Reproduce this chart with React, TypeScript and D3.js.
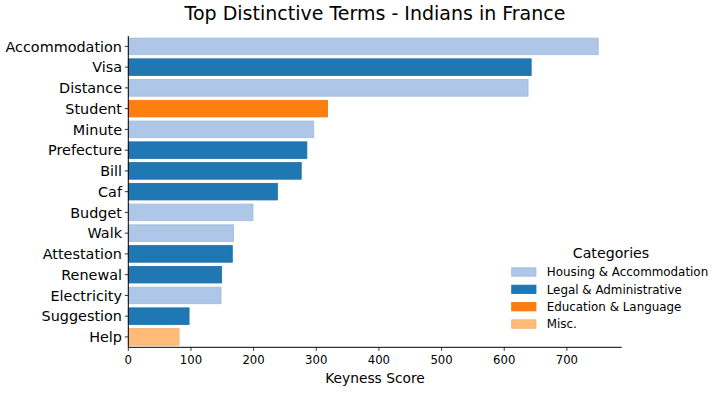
import React from "react";
import * as d3 from "d3";

const terms = ["Accommodation","Visa","Distance","Student","Minute","Prefecture","Bill","Caf","Budget","Walk","Attestation","Renewal","Electricity","Suggestion","Help"];
const scores = [750,643,638,318,296,285,276,238,199,168,166,149,148,97,81];
const termCategories = ["Housing & Accommodation","Legal & Administrative","Housing & Accommodation","Education & Language","Housing & Accommodation","Legal & Administrative","Legal & Administrative","Legal & Administrative","Housing & Accommodation","Housing & Accommodation","Legal & Administrative","Legal & Administrative","Housing & Accommodation","Legal & Administrative","Misc."];
const categories = ["Housing & Accommodation","Legal & Administrative","Education & Language","Misc."];
const categoryColors = ["#aec7e8","#1f77b4","#ff7f0e","#ffbb78"];
const xTicks = [0,100,200,300,400,500,600,700];

const W = 720, H = 393;
const left = 128.3, right = 621.7, top = 36, bottom = 347.3;
const FONT = "DejaVu Sans, sans-serif";

const edge = (c: string) => d3.color(c)!.darker(0.2).formatHex();

export default function App() {
  const xMax = d3.max(scores)! * 1.05;
  const x = d3.scaleLinear().domain([0, xMax]).range([left, right]);
  const y = d3.scaleBand<string>().domain(terms).range([top, bottom]).paddingInner(0.2).paddingOuter(0.1);
  const color = d3.scaleOrdinal<string, string>().domain(categories).range(categoryColors);

  return (
    <svg width={W} height={H} style={{ position: "absolute", left: 0, top: 0 }} fontFamily={FONT}>
      <rect width={W} height={H} fill="#fff" />
      <text x={(left + right) / 2} y={19.5} textAnchor="middle" fontSize={19} fill="#000">
        Top Distinctive Terms - Indians in France
      </text>
      {terms.map((t, i) => {
        const c = color(termCategories[i]);
        return (
          <rect key={t} x={x(0)} y={y(t)!} width={x(scores[i]) - x(0)} height={y.bandwidth()}
            fill={c} stroke={edge(c)} strokeWidth={0.8} />
        );
      })}
      {terms.map((t) => {
        const cy = y(t)! + y.bandwidth() / 2;
        return (
          <g key={"yt" + t}>
            <line x1={left - 3.5} x2={left} y1={cy} y2={cy} stroke="#000" strokeWidth={0.8} />
            <text x={left - 6.3} y={cy} dy="0.36em" textAnchor="end" fontSize={14.4} fill="#000">{t}</text>
          </g>
        );
      })}
      {xTicks.map((v) => (
        <g key={"xt" + v}>
          <line x1={x(v)} x2={x(v)} y1={bottom} y2={bottom + 3.5} stroke="#000" strokeWidth={0.8} />
          <text x={x(v)} y={363.5} textAnchor="middle" fontSize={11.7} fill="#000">{v}</text>
        </g>
      ))}
      <line x1={left} x2={left} y1={top} y2={bottom} stroke="#000" strokeWidth={1} />
      <line x1={left} x2={right} y1={bottom} y2={bottom} stroke="#000" strokeWidth={1} />
      <text x={(left + right) / 2} y={383.3} textAnchor="middle" fontSize={13.8} fill="#000">Keyness Score</text>
      <g>
        <text x={611} y={257.5} textAnchor="middle" fontSize={14.2} fill="#000">Categories</text>
        {categories.map((c, i) => {
          const cy = 272 + i * 17.35;
          return (
            <g key={"lg" + c}>
              <rect x={511.7} y={cy - 4.2} width={24.3} height={8.4} fill={categoryColors[i]} stroke={edge(categoryColors[i])} strokeWidth={0.8} />
              <text x={546.7} y={cy} dy="0.36em" fontSize={11.9} fill="#000">{c}</text>
            </g>
          );
        })}
      </g>
    </svg>
  );
}
